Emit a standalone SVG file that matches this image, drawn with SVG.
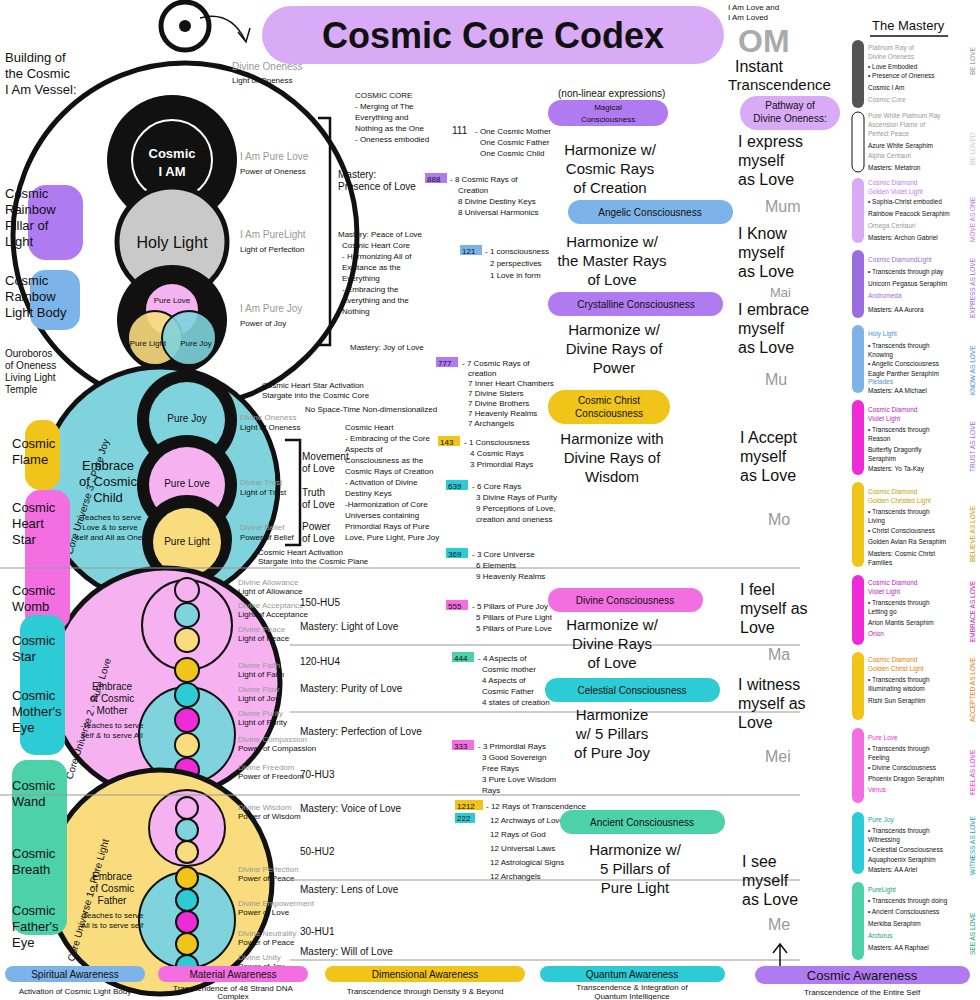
<svg xmlns="http://www.w3.org/2000/svg" width="980" height="1000" viewBox="0 0 980 1000">
<style>
text{font-family:"Liberation Sans",Arial,sans-serif;fill:#111}
.s{font-size:8px}.m{font-size:10px}.l{font-size:13px}.xl{font-size:16px}.h{font-size:15px}
.g{fill:#999}.ring{fill:none;stroke:#111;stroke-width:5}
.thin{stroke:#111;stroke-width:1.5;fill:none}
.c{text-anchor:middle}
#mastery .s{font-size:6.5px}
</style>
<rect width="980" height="1000" fill="#fff"/>
<g id="title"><rect x="262" y="6" width="462" height="58" rx="29" fill="#d9aaf5"/><text x="493" y="48" class="c" style="font-size:36px;font-weight:bold">Cosmic Core Codex</text></g>
<g id="vessel">
<circle cx="185" cy="26" r="24" class="ring"/><circle cx="185" cy="26" r="6" fill="#111"/>
<circle cx="185" cy="235" r="172" class="ring"/>
<circle cx="172" cy="160" r="65" fill="#111"/><circle cx="172" cy="160" r="40" fill="none" stroke="#fff" stroke-width="2"/>
<text x="172" y="158" class="c l" style="fill:#fff;font-weight:bold">Cosmic</text><text x="172" y="176" class="c l" style="fill:#fff;font-weight:bold">I AM</text>
<circle cx="172" cy="242" r="55" fill="#c9c9c9" stroke="#111" stroke-width="5"/><text x="172" y="248" class="c xl">Holy Light</text>
<circle cx="172" cy="320" r="55" fill="#111"/>
<circle cx="172" cy="310" r="27" fill="#f6b2f0" stroke="#111" stroke-width="2"/>
<circle cx="155" cy="338" r="27" fill="#f8dc7d" stroke="#111" stroke-width="2" fill-opacity="0.9"/>
<circle cx="189" cy="338" r="27" fill="#7ed3dc" stroke="#111" stroke-width="2" fill-opacity="0.9"/>
<text x="172" y="303" class="c s">Pure Love</text><text x="148" y="346" class="c s">Pure Light</text><text x="196" y="346" class="c s">Pure Joy</text>
<path d="M200 18 Q230 10 245 40" class="thin"/><path d="M238 32 L246 42 L250 28" class="thin"/>
<text x="240" y="160" class="m g">I Am Pure Love</text><text x="240" y="174" class="s">Power of Oneness</text>
<text x="240" y="238" class="m g">I Am PureLight</text><text x="240" y="252" class="s">Light of Perfection</text>
<text x="240" y="312" class="m g">I Am Pure Joy</text><text x="240" y="326" class="s">Power of Joy</text>
<text x="232" y="70" class="m g">Divine Oneness</text><text x="232" y="83" class="s">Light of Oneness</text>
</g>
<g id="universe3">
<circle cx="160" cy="485" r="118" fill="#7ed3dc" stroke="#111" stroke-width="5"/>
<circle cx="187" cy="420" r="50" fill="#111"/><circle cx="187" cy="420" r="38" fill="#7ed3dc"/>
<circle cx="187" cy="485" r="50" fill="#111"/><circle cx="187" cy="485" r="38" fill="#f6b2f0"/>
<circle cx="187" cy="540" r="45" fill="#111"/><circle cx="187" cy="542" r="34" fill="#f8dc7d"/>
<text x="187" y="422" class="c m">Pure Joy</text><text x="187" y="487" class="c m">Pure Love</text><text x="187" y="545" class="c m">Pure Light</text>
<text x="108" y="470" class="c l">Embrace</text><text x="108" y="486" class="c l">of Cosmic</text><text x="108" y="502" class="c l">Child</text>
<text x="110" y="520" class="c s">-Teaches to serve</text><text x="110" y="530" class="c s">Love &amp; to serve</text><text x="110" y="540" class="c s">self and All as One.</text>
<text x="240" y="420" class="s g">Divine Oneness</text><text x="240" y="430" class="s">Light of Oneness</text>
<text x="240" y="485" class="s g">Divine Trust</text><text x="240" y="495" class="s">Light of Trust</text>
<text x="240" y="530" class="s g">Divine Belief</text><text x="240" y="540" class="s">Power of Belief</text>
<text transform="translate(72 555) rotate(-72)" class="m">Core Universe 3 · Pure Joy</text>
</g>
<g id="universe2">
<circle cx="165" cy="683" r="115" fill="#f6b2f0" stroke="#111" stroke-width="5"/>
<circle cx="187" cy="625" r="45" fill="#f6b2f0" stroke="#111" stroke-width="2"/>
<circle cx="187" cy="735" r="48" fill="#7ed3dc" stroke="#111" stroke-width="2"/>
<g stroke="#111" stroke-width="2">
<circle cx="187" cy="590" r="12" fill="#f6b2f0"/><circle cx="187" cy="615" r="12" fill="#7ed3dc"/><circle cx="187" cy="640" r="12" fill="#f8dc7d"/>
<circle cx="187" cy="670" r="12" fill="#f0c419"/><circle cx="187" cy="695" r="12" fill="#2ccbd6"/><circle cx="187" cy="720" r="12" fill="#ee2bd6"/>
<circle cx="187" cy="745" r="12" fill="#f8dc7d"/><circle cx="187" cy="770" r="12" fill="#ee2bd6"/>
</g>
<text x="112" y="690" class="c m">Embrace</text><text x="112" y="702" class="c m">of Cosmic</text><text x="112" y="714" class="c m">Mother</text>
<text x="112" y="728" class="c s">-Teaches to serve</text><text x="112" y="738" class="c s">self &amp; to serve All</text>
<g class="s"><text x="238" y="585" class="g">Divine Allowance</text><text x="238" y="594">Light of Allowance</text>
<text x="238" y="608" class="g">Divine Acceptance</text><text x="238" y="617">Light of Acceptance</text>
<text x="238" y="632" class="g">Divine Peace</text><text x="238" y="641">Light of Peace</text>
<text x="238" y="668" class="g">Divine Faith</text><text x="238" y="677">Light of Faith</text>
<text x="238" y="692" class="g">Divine Flow</text><text x="238" y="701">Light of Joy</text>
<text x="238" y="716" class="g">Divine Purity</text><text x="238" y="725">Light of Purity</text>
<text x="238" y="742" class="g">Divine Compassion</text><text x="238" y="751">Power of Compassion</text>
<text x="238" y="770" class="g">Divine Freedom</text><text x="238" y="779">Power of Freedom</text></g>
<text transform="translate(72 780) rotate(-72)" class="m">Core Universe 2 · Pure Love</text>
</g>
<g id="universe1">
<circle cx="160" cy="882" r="112" fill="#f8dc7d" stroke="#111" stroke-width="5"/>
<circle cx="187" cy="828" r="38" fill="#f6b2f0" stroke="#111" stroke-width="2"/>
<circle cx="187" cy="920" r="48" fill="#7ed3dc" stroke="#111" stroke-width="2"/>
<g stroke="#111" stroke-width="2">
<circle cx="187" cy="808" r="11" fill="#f6b2f0"/><circle cx="187" cy="830" r="11" fill="#7ed3dc"/><circle cx="187" cy="852" r="11" fill="#f8dc7d"/>
<circle cx="187" cy="878" r="11" fill="#f0c419"/><circle cx="187" cy="900" r="11" fill="#2ccbd6"/><circle cx="187" cy="922" r="11" fill="#ee2bd6"/>
<circle cx="187" cy="944" r="11" fill="#f0c419"/><circle cx="187" cy="966" r="11" fill="#2ccbd6"/>
</g>
<text x="112" y="880" class="c m">Embrace</text><text x="112" y="892" class="c m">of Cosmic</text><text x="112" y="904" class="c m">Father</text>
<text x="112" y="918" class="c s">-Teaches to serve</text><text x="112" y="928" class="c s">All is to serve self</text>
<g class="s"><text x="238" y="810" class="g">Divine Wisdom</text><text x="238" y="819">Power of Wisdom</text>
<text x="238" y="872" class="g">Divine Perfection</text><text x="238" y="881">Power of Peace</text>
<text x="238" y="906" class="g">Divine Empowerment</text><text x="238" y="915">Power of Love</text>
<text x="238" y="936" class="g">Divine Neutrality</text><text x="238" y="945">Power of Peace</text>
<text x="238" y="960" class="g">Divine Unity</text><text x="238" y="969">Power of Joy</text></g>
<text transform="translate(74 962) rotate(-74)" class="m">Core Universe 1 · Pure Light</text>
</g>
<g id="leftlabels" class="l">
<text x="5" y="62">Building of</text><text x="5" y="78">the Cosmic</text><text x="5" y="94">I Am Vessel:</text>
<rect x="28" y="185" width="55" height="75" rx="18" fill="#b07af0"/><text x="5" y="198">Cosmic</text><text x="5" y="214">Rainbow</text><text x="5" y="230">Pillar of</text><text x="5" y="246">Light</text>
<rect x="30" y="270" width="50" height="60" rx="15" fill="#7cb3e8"/><text x="5" y="285">Cosmic</text><text x="5" y="301">Rainbow</text><text x="5" y="317">Light Body</text>
<text x="5" y="357" class="m">Ouroboros</text><text x="5" y="369" class="m">of Oneness</text><text x="5" y="381" class="m">Living Light</text><text x="5" y="393" class="m">Temple</text>
<rect x="25" y="420" width="35" height="70" rx="15" fill="#f0c419"/><text x="12" y="448">Cosmic</text><text x="12" y="464">Flame</text>
<rect x="25" y="490" width="45" height="140" rx="15" fill="#f36ee0"/><text x="12" y="512">Cosmic</text><text x="12" y="528">Heart</text><text x="12" y="544">Star</text>
<text x="12" y="595">Cosmic</text><text x="12" y="611">Womb</text>
<rect x="20" y="615" width="45" height="140" rx="15" fill="#2ccbd6"/><text x="12" y="645">Cosmic</text><text x="12" y="661">Star</text>
<text x="12" y="700">Cosmic</text><text x="12" y="716">Mother's</text><text x="12" y="732">Eye</text>
<rect x="12" y="760" width="55" height="175" rx="15" fill="#4cd1a8"/><text x="12" y="790">Cosmic</text><text x="12" y="806">Wand</text>
<text x="12" y="858">Cosmic</text><text x="12" y="874">Breath</text><text x="12" y="915">Cosmic</text><text x="12" y="931">Father's</text><text x="12" y="947">Eye</text>
</g>
<g id="connectors" class="thin">
<line x1="0" y1="568" x2="800" y2="568" stroke="#999" stroke-width="1"/>
<line x1="290" y1="645" x2="800" y2="645" stroke="#999" stroke-width="1"/>
<line x1="0" y1="795" x2="800" y2="795" stroke="#999" stroke-width="1"/>
<line x1="290" y1="712" x2="800" y2="712" stroke="#999" stroke-width="1"/>
<line x1="290" y1="880" x2="800" y2="880" stroke="#999" stroke-width="1"/>
<line x1="290" y1="960" x2="800" y2="960" stroke="#999" stroke-width="1"/>
<path d="M318 118 H330 V345 H318" stroke-width="2.5"/>
<path d="M285 440 H300 V545 H285" stroke-width="2.5"/>
</g>
<g id="middle">
<text x="355" y="98" class="s">COSMIC CORE</text><text x="355" y="109" class="s">- Merging of The</text><text x="355" y="120" class="s">Everything and</text><text x="355" y="131" class="s">Nothing as the One</text><text x="355" y="142" class="s">- Oneness embodied</text>
<text x="338" y="178" class="m">Mastery:</text><text x="338" y="190" class="m">Presence of Love</text>
<text x="338" y="237" class="s">Mastery: Peace of Love</text><text x="342" y="248" class="s">Cosmic Heart Core</text><text x="342" y="259" class="s">- Harmonizing All of</text><text x="342" y="270" class="s">Existance as the</text><text x="342" y="281" class="s">Everything</text><text x="342" y="292" class="s">- Embracing the</text><text x="342" y="303" class="s">Everything and the</text><text x="342" y="314" class="s">Nothing</text>
<text x="350" y="350" class="s">Mastery: Joy of Love</text>
<text x="262" y="388" class="s">Cosmic Heart Star Activation</text><text x="262" y="398" class="s">Stargate into the Cosmic Core</text>
<text x="305" y="412" class="s">No Space-Time Non-dimensionalized</text>
<text x="302" y="460" class="m">Movement</text><text x="302" y="472" class="m">of Love</text>
<text x="302" y="496" class="m">Truth</text><text x="302" y="508" class="m">of Love</text>
<text x="302" y="530" class="m">Power</text><text x="302" y="542" class="m">of Love</text>
<g class="s"><text x="345" y="430">Cosmic Heart</text><text x="345" y="441">- Embracing of the Core</text><text x="345" y="452">Aspects of</text><text x="345" y="463">Consciousness as the</text><text x="345" y="474">Cosmic Rays of Creation</text><text x="345" y="485">- Activation of Divine</text><text x="345" y="496">Destiny Keys</text><text x="345" y="507">-Harmonization of Core</text><text x="345" y="518">Universes containing</text><text x="345" y="529">Primordial Rays of Pure</text><text x="345" y="540">Love, Pure Light, Pure Joy</text></g>
<text x="258" y="555" class="s">Cosmic Heart Activation</text><text x="258" y="564" class="s">Stargate into the Cosmic Plane</text>
<text x="300" y="606" class="m">150-HU5</text><text x="300" y="630" class="m">Mastery: Light of Love</text>
<text x="300" y="665" class="m">120-HU4</text><text x="300" y="692" class="m">Mastery: Purity of Love</text>
<text x="300" y="735" class="m">Mastery: Perfection of Love</text>
<text x="300" y="778" class="m">70-HU3</text><text x="300" y="812" class="m">Mastery: Voice of Love</text>
<text x="300" y="855" class="m">50-HU2</text><text x="300" y="893" class="m">Mastery: Lens of Love</text>
<text x="300" y="935" class="m">30-HU1</text><text x="300" y="955" class="m">Mastery: Will of Love</text>
<g class="s">
<text x="452" y="134" class="m">111</text><text x="475" y="134">- One Cosmic Mother</text><text x="480" y="145">One Cosmic Father</text><text x="480" y="156">One Cosmic Child</text>
<rect x="425" y="173" width="22" height="10" fill="#b07af0"/><text x="427" y="182">888</text><text x="450" y="182">- 8 Cosmic Rays of</text><text x="458" y="193">Creation</text><text x="458" y="204">8 Divine Destiny Keys</text><text x="458" y="215">8 Universal Harmonics</text>
<rect x="460" y="245" width="22" height="10" fill="#7cb3e8"/><text x="462" y="254">121</text><text x="485" y="254">- 1 consciousness</text><text x="490" y="266">2 perspectives</text><text x="490" y="278">1 Love in form</text>
<rect x="436" y="357" width="22" height="10" fill="#b07af0"/><text x="438" y="366">777</text><text x="462" y="366">- 7 Cosmic Rays of</text><text x="468" y="376">creation</text><text x="468" y="386">7 Inner Heart Chambers</text><text x="468" y="396">7 Divine Sisters</text><text x="468" y="406">7 Divine Brothers</text><text x="468" y="416">7 Heavenly Realms</text><text x="468" y="426">7 Archangels</text>
<rect x="438" y="436" width="22" height="10" fill="#f0c419"/><text x="440" y="445">143</text><text x="464" y="445">- 1 Consciousness</text><text x="470" y="456">4 Cosmic Rays</text><text x="470" y="467">3 Primordial Rays</text>
<rect x="446" y="480" width="22" height="10" fill="#2ccbd6"/><text x="448" y="489">639</text><text x="472" y="489">- 6 Core Rays</text><text x="476" y="500">3 Divine Rays of Purity</text><text x="476" y="511">9 Perceptions of Love,</text><text x="476" y="522">creation and oneness</text>
<rect x="446" y="548" width="22" height="10" fill="#2ccbd6"/><text x="448" y="557">369</text><text x="472" y="557">- 3 Core Universe</text><text x="476" y="568">6 Elements</text><text x="476" y="579">9 Heavenly Realms</text>
<rect x="446" y="600" width="22" height="10" fill="#f36ee0"/><text x="448" y="609">555</text><text x="472" y="609">- 5 Pillars of Pure Joy</text><text x="476" y="620">5 Pillars of Pure Light</text><text x="476" y="631">5 Pillars of Pure Love</text>
<rect x="452" y="652" width="22" height="10" fill="#4cd1a8"/><text x="454" y="661">444</text><text x="478" y="661">- 4 Aspects of</text><text x="482" y="672">Cosmic mother</text><text x="482" y="683">4 Aspects of</text><text x="482" y="694">Cosmic Father</text><text x="482" y="705">4 states of creation</text>
<rect x="452" y="740" width="22" height="10" fill="#f36ee0"/><text x="454" y="749">333</text><text x="478" y="749">- 3 Primordial Rays</text><text x="482" y="760">3 Good Sovereign</text><text x="482" y="771">Free Rays</text><text x="482" y="782">3 Pure Love Wisdom</text><text x="482" y="793">Rays</text>
<rect x="455" y="800" width="28" height="10" fill="#f0c419"/><text x="457" y="809">1212</text><rect x="455" y="813" width="20" height="10" fill="#2ccbd6"/><text x="457" y="821">222</text><text x="486" y="809">- 12 Rays of Transcendence</text><text x="490" y="823">12 Archways of Love</text><text x="490" y="837">12 Rays of God</text><text x="490" y="851">12 Universal Laws</text><text x="490" y="865">12 Astrological Signs</text><text x="490" y="879">12 Archangels</text>
</g>
<text x="558" y="97" class="m">(non-linear expressions)</text>
<rect x="548" y="100" width="120" height="26" rx="13" fill="#b07af0"/><text x="608" y="110" class="c s">Magical</text><text x="608" y="122" class="c s">Consciousness</text>
<text x="610" y="155" class="c h">Harmonize w/</text><text x="610" y="174" class="c h">Cosmic Rays</text><text x="610" y="193" class="c h">of Creation</text>
<rect x="568" y="200" width="165" height="24" rx="12" fill="#7cb3e8"/><text x="650" y="216" class="c m">Angelic Consciousness</text>
<text x="612" y="247" class="c h">Harmonize w/</text><text x="612" y="266" class="c h">the Master Rays</text><text x="612" y="285" class="c h">of Love</text>
<rect x="548" y="292" width="175" height="24" rx="12" fill="#b07af0"/><text x="636" y="308" class="c m">Crystalline Consciousness</text>
<text x="614" y="335" class="c h">Harmonize w/</text><text x="614" y="354" class="c h">Divine Rays of</text><text x="614" y="373" class="c h">Power</text>
<rect x="548" y="390" width="122" height="34" rx="17" fill="#f0c419"/><text x="609" y="404" class="c m">Cosmic Christ</text><text x="609" y="417" class="c m">Consciousness</text>
<text x="612" y="444" class="c h">Harmonize with</text><text x="612" y="463" class="c h">Divine Rays of</text><text x="612" y="482" class="c h">Wisdom</text>
<rect x="548" y="588" width="155" height="24" rx="12" fill="#f36ee0"/><text x="625" y="604" class="c m">Divine Consciousness</text>
<text x="612" y="630" class="c h">Harmonize w/</text><text x="612" y="649" class="c h">Divine Rays</text><text x="612" y="668" class="c h">of Love</text>
<rect x="545" y="678" width="175" height="24" rx="12" fill="#2ccbd6"/><text x="632" y="694" class="c m">Celestial Consciousness</text>
<text x="612" y="720" class="c h">Harmonize</text><text x="612" y="739" class="c h">w/ 5 Pillars</text><text x="612" y="758" class="c h">of Pure Joy</text>
<rect x="560" y="810" width="165" height="24" rx="12" fill="#4cd1a8"/><text x="642" y="826" class="c m">Ancient Consciousness</text>
<text x="635" y="855" class="c h">Harmonize w/</text><text x="635" y="874" class="c h">5 Pillars of</text><text x="635" y="893" class="c h">Pure Light</text>
</g>
<g id="pathway">
<text x="728" y="10" class="s">I Am Love and</text><text x="728" y="20" class="s">I Am Loved</text>
<text x="738" y="52" style="font-size:32px;fill:#aaa;font-weight:bold">OM</text>
<text x="735" y="72" class="xl">Instant</text><text x="728" y="90" class="h">Transcendence</text>
<rect x="740" y="96" width="100" height="34" rx="17" fill="#d9aaf5"/><text x="790" y="109" class="c m">Pathway of</text><text x="790" y="122" class="c m">Divine Oneness:</text>
<text x="738" y="147" class="xl">I express</text><text x="738" y="166" class="xl">myself</text><text x="738" y="185" class="xl">as Love</text><text x="765" y="212" class="xl g">Mum</text>
<text x="738" y="239" class="xl">I Know</text><text x="738" y="258" class="xl">myself</text><text x="738" y="277" class="xl">as Love</text><text x="770" y="297" class="l g">Mai</text>
<text x="738" y="315" class="xl">I embrace</text><text x="738" y="334" class="xl">myself</text><text x="738" y="353" class="xl">as Love</text><text x="765" y="385" class="xl g">Mu</text>
<text x="740" y="443" class="xl">I Accept</text><text x="740" y="462" class="xl">myself</text><text x="740" y="481" class="xl">as Love</text><text x="768" y="525" class="xl g">Mo</text>
<text x="740" y="595" class="xl">I feel</text><text x="740" y="614" class="xl">myself as</text><text x="740" y="633" class="xl">Love</text><text x="768" y="660" class="xl g">Ma</text>
<text x="738" y="690" class="xl">I witness</text><text x="738" y="709" class="xl">myself as</text><text x="738" y="728" class="xl">Love</text><text x="765" y="762" class="xl g">Mei</text>
<text x="742" y="867" class="xl">I see</text><text x="742" y="886" class="xl">myself</text><text x="742" y="905" class="xl">as Love</text><text x="768" y="930" class="xl g">Me</text>
<path d="M780 975 V945 M773 953 L780 944 L787 953" class="thin"/>
</g>
<g id="mastery">
<text x="872" y="30" class="l">The Mastery</text><line x1="870" y1="36" x2="948" y2="36" stroke="#111" stroke-width="1.5"/>
<g class="s">
<rect x="852" y="40" width="12" height="68" rx="6" fill="#555"/><text x="868" y="50" class="g">Platinum Ray of</text><text x="868" y="59" class="g">Divine Oneness</text><text x="868" y="69">• Love Embodied</text><text x="868" y="78">• Presence of Oneness</text><text x="868" y="90">Cosmic I Am</text><text x="868" y="102" class="g">Cosmic Core</text>
<rect x="852" y="112" width="12" height="60" rx="6" fill="#fff" stroke="#111"/><text x="868" y="118" class="g">Pure White Platinum Ray</text><text x="868" y="127" class="g">Ascension Flame of</text><text x="868" y="136" class="g">Perfect Peace</text><text x="868" y="148">Azure White Seraphim</text><text x="868" y="158" class="g">Alpha Centauri</text><text x="868" y="170">Masters: Metatron</text>
<rect x="852" y="178" width="12" height="65" rx="6" fill="#d9aaf5"/><text x="868" y="185" style="fill:#c477f0">Cosmic Diamond</text><text x="868" y="194" style="fill:#c477f0">Golden Violet Light</text><text x="868" y="204">• Sophia-Christ embodied</text><text x="868" y="216">Rainbow Peacock Seraphim</text><text x="868" y="228" class="g">Omega Centauri</text><text x="868" y="240">Masters: Archon Gabriel</text>
<rect x="852" y="250" width="12" height="68" rx="6" fill="#9b6ce0"/><text x="868" y="262" style="fill:#9b6ce0">Cosmic DiamondLight</text><text x="868" y="274">• Transcends through play</text><text x="868" y="286">Unicorn Pegasus Seraphim</text><text x="868" y="298" style="fill:#9b6ce0">Andromeda</text><text x="868" y="312">Masters: AA Aurora</text>
<rect x="852" y="325" width="12" height="68" rx="6" fill="#7cb3e8"/><text x="868" y="336" style="fill:#4a8fe0">Holy Light</text><text x="868" y="348">• Transcends through</text><text x="868" y="357">Knowing</text><text x="868" y="366">• Angelic Consciousness</text><text x="868" y="376">Eagle Panther Seraphim</text><text x="868" y="384" style="fill:#4a8fe0">Pleiades</text><text x="868" y="393">Masters: AA Michael</text>
<rect x="852" y="400" width="12" height="75" rx="6" fill="#ee2bd6"/><text x="868" y="412" style="fill:#c020c0">Cosmic Diamond</text><text x="868" y="421" style="fill:#c020c0">Violet Light</text><text x="868" y="432">• Transcends through</text><text x="868" y="441">Reason</text><text x="868" y="452">Butterfly Dragonfly</text><text x="868" y="461">Seraphim</text><text x="868" y="471">Masters: Yo Ta-Kay</text>
<rect x="852" y="482" width="12" height="85" rx="6" fill="#f0c419"/><text x="868" y="494" style="fill:#c9a000">Cosmic Diamond</text><text x="868" y="503" style="fill:#c9a000">Golden Christed Light</text><text x="868" y="514">• Transcends through</text><text x="868" y="523">Living</text><text x="868" y="533">• Christ Consciousness</text><text x="868" y="544">Golden Avian Ra Seraphim</text><text x="868" y="556">Masters: Cosmic Christ</text><text x="868" y="565">Families</text>
<rect x="852" y="575" width="12" height="70" rx="6" fill="#ee2bd6"/><text x="868" y="585" style="fill:#c020c0">Cosmic Diamond</text><text x="868" y="594" style="fill:#c020c0">Violet Light</text><text x="868" y="605">• Transcends through</text><text x="868" y="614">Letting go</text><text x="868" y="625">Arion Mantis Seraphim</text><text x="868" y="636" style="fill:#c020c0">Orion</text>
<rect x="852" y="652" width="12" height="68" rx="6" fill="#f0c419"/><text x="868" y="662" style="fill:#e07f00">Cosmic Diamond</text><text x="868" y="671" style="fill:#e07f00">Golden Christ Light</text><text x="868" y="682">• Transcends through</text><text x="868" y="691">Illuminating wisdom</text><text x="868" y="703">Rishi Sun Seraphim</text>
<rect x="852" y="728" width="12" height="75" rx="6" fill="#f36ee0"/><text x="868" y="740" style="fill:#ee2bd6">Pure Love</text><text x="868" y="751">• Transcends through</text><text x="868" y="760">Feeling</text><text x="868" y="770">• Divine Consciousness</text><text x="868" y="781">Phoenix Dragon Seraphim</text><text x="868" y="792" style="fill:#ee2bd6">Venus</text>
<rect x="852" y="812" width="12" height="62" rx="6" fill="#2ccbd6"/><text x="868" y="822" style="fill:#16a0b0">Pure Joy</text><text x="868" y="833">• Transcends through</text><text x="868" y="842">Witnessing</text><text x="868" y="852">• Celestial Consciousness</text><text x="868" y="862">Aquaphoenix Seraphim</text><text x="868" y="872">Masters: AA Ariel</text>
<rect x="852" y="882" width="12" height="78" rx="6" fill="#4cd1a8"/><text x="868" y="892" style="fill:#16a070">PureLight</text><text x="868" y="903">• Transcends through doing</text><text x="868" y="914">• Ancient Consciousness</text><text x="868" y="926">Merkiba Seraphim</text><text x="868" y="938" style="fill:#16a070">Arcturus</text><text x="868" y="950">Masters: AA Raphael</text>
</g>
<g class="s">
<text transform="translate(975 75) rotate(-90)" class="g">BE LOVE</text>
<text transform="translate(975 165) rotate(-90)" style="fill:#ccc">BE LOVED</text>
<text transform="translate(975 242) rotate(-90)" style="fill:#c477f0">MOVE AS ONE</text>
<text transform="translate(975 318) rotate(-90)" style="fill:#9b6ce0">EXPRESS AS LOVE</text>
<text transform="translate(975 395) rotate(-90)" style="fill:#4a8fe0">KNOW AS LOVE</text>
<text transform="translate(975 472) rotate(-90)" style="fill:#9b6ce0">TRUST AS LOVE</text>
<text transform="translate(975 562) rotate(-90)" style="fill:#c9a000">BELIEVE AS LOVE</text>
<text transform="translate(975 642) rotate(-90)" style="fill:#c020c0">EMBRACE AS LOVE</text>
<text transform="translate(975 722) rotate(-90)" style="fill:#e07f00">ACCEPTED AS LOVE</text>
<text transform="translate(975 795) rotate(-90)" style="fill:#ee2bd6">FEEL AS LOVE</text>
<text transform="translate(975 875) rotate(-90)" style="fill:#16a0b0">WITNESS AS LOVE</text>
<text transform="translate(975 955) rotate(-90)" style="fill:#16a070">SEE AS LOVE</text>
</g>
</g>
<g id="legend">
<rect x="5" y="966" width="140" height="16" rx="8" fill="#7cb3e8"/><text x="75" y="978" class="c m">Spiritual Awareness</text><text x="75" y="994" class="c s">Activation of Cosmic Light Body</text>
<rect x="158" y="966" width="150" height="16" rx="8" fill="#f36ee0"/><text x="233" y="978" class="c m">Material Awareness</text><text x="233" y="991" class="c s">Transcendence of 48 Strand DNA</text><text x="233" y="999" class="c s">Complex</text>
<rect x="325" y="966" width="200" height="16" rx="8" fill="#f0c419"/><text x="425" y="978" class="c m">Dimensional Awareness</text><text x="425" y="994" class="c s">Transcendence through Density 9 &amp; Beyond</text>
<rect x="540" y="966" width="185" height="16" rx="8" fill="#2ccbd6"/><text x="632" y="978" class="c m">Quantum Awareness</text><text x="632" y="990" class="c s">Transcendence &amp; Integration of</text><text x="632" y="999" class="c s">Quantum Intelligence</text>
<rect x="755" y="966" width="215" height="18" rx="9" fill="#b07af0"/><text x="862" y="980" class="c l">Cosmic Awareness</text><text x="862" y="995" class="c s">Transcendence of the Entire Self</text>
</g>
</svg>
